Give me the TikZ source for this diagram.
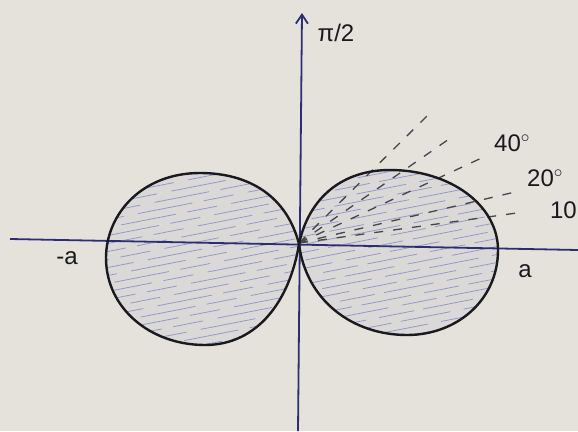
\documentclass[tikz,border=0pt]{standalone}
\usepackage{fontspec}
\setmainfont{Liberation Sans}
\usetikzlibrary{arrows.meta}
\definecolor{paper}{RGB}{228,226,219}
\definecolor{axisblue}{RGB}{45,45,115}
\definecolor{ink}{RGB}{25,25,30}
\definecolor{hatchblue}{RGB}{95,100,190}
\definecolor{pencil}{RGB}{70,70,75}
\tikzset{
  axisline/.style={draw=axisblue, line width=1.8pt},
  loopline/.style={draw=ink, line width=2.4pt},
  hatchline/.style={draw=hatchblue, line width=0.8pt, opacity=0.55, line cap=round},
  rayline/.style={draw=pencil, line width=1.3pt, dash pattern=on 9pt off 10pt},
  lbl/.style={text=ink, font=\fontsize{24}{24}\selectfont, inner sep=0pt}
}
\begin{document}
\begin{tikzpicture}[x=1pt,y=-1pt]
\useasboundingbox (0,0) rectangle (578,431);
\clip (0,0) rectangle (578,431);
\fill[paper] (0,0) rectangle (578,431);

% loop outlines as paths
\def\leftloop{(299,244) .. controls (287,197) and (250,173) .. (200,173) .. controls (142,173) and (106,214) .. (106,258) .. controls (106,308) and (150,345) .. (205,345) .. controls (258,345) and (290,300) .. cycle}
\def\rightloop{(299,244) .. controls (309,197) and (343,170) .. (390,170) .. controls (450,170) and (498,205) .. (498,250) .. controls (498,300) and (457,335) .. (407,335) .. controls (352,335) and (306,300) .. cycle}

% light tint
\fill[hatchblue, opacity=0.07] \leftloop;
\fill[hatchblue, opacity=0.07] \rightloop;

% hatching
\begin{scope}
\clip \leftloop;
\foreach \i in {0,...,24} {
  \draw[hatchline, dash pattern=on 55pt off 12pt on 30pt off 15pt, dash phase=\i*17] (95,190+8*\i) -- ++(215,-42);
}
\end{scope}
\begin{scope}
\clip \rightloop;
\foreach \i in {0,...,24} {
  \draw[hatchline, dash pattern=on 50pt off 14pt on 35pt off 10pt, dash phase=\i*23] (295,190+8*\i) -- ++(215,-42);
}
\end{scope}

% axes
\coordinate (O) at (299,243);
\coordinate (xl) at (10,239);
\coordinate (xr) at (578,250);
\coordinate (yb) at (298,431);
\coordinate (yt) at (302,13);
\draw[axisline] (xl) -- (xr);
\draw[axisline, -{Straight Barb[length=9pt,width=12pt]}] (yb) -- (yt);

% dashed rays
\coordinate (r1) at (430,113);
\coordinate (r2) at (452,137);
\coordinate (r3) at (488,155);
\coordinate (r4) at (515,192);
\coordinate (r5) at (524,212);
\foreach \r in {r1,r2,r3,r4,r5} { \draw[rayline] (O) -- (\r); }

% loops
\draw[loopline] \leftloop;
\draw[loopline] \rightloop;

% labels
\node[lbl] (pi) at (336,33) {π/2};
\node[lbl] (ma) at (67,258) {-a};
\node[lbl] (pa) at (525,271) {a};
\node[lbl, anchor=west] (l40) at (494,143) {40$^{\circ}$};
\node[lbl, anchor=west] (l20) at (527,178) {20$^{\circ}$};
\node[lbl, anchor=east] (l10) at (577,210) {10};
\end{tikzpicture}
\end{document}
